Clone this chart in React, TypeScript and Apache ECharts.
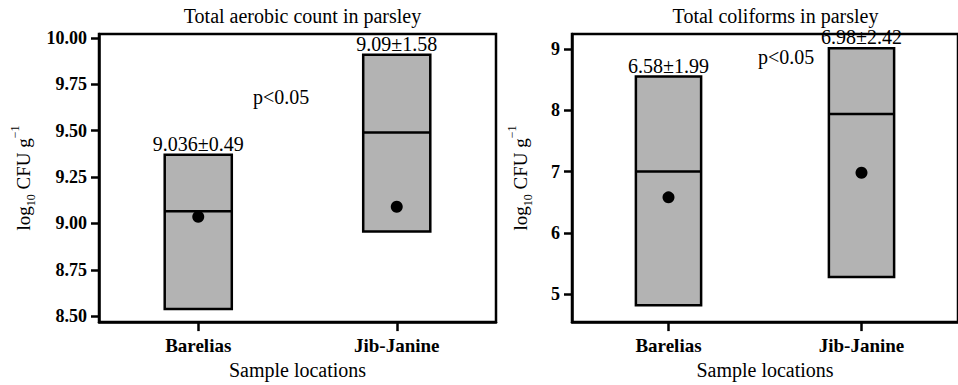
import React, { useEffect, useRef } from "react";
import * as echarts from "echarts";

const categories = ["Barelias", "Jib-Janine"];

// Panel 1: Total aerobic count
const aerobicLow = [8.538, 8.957];
const aerobicHigh = [9.371, 9.909];
const aerobicMedian = [9.066, 9.491];
const aerobicMean = [9.036, 9.09];
const aerobicLabels = ["9.036±0.49", "9.09±1.58"];
const aerobicTicks = [8.5, 8.75, 9.0, 9.25, 9.5, 9.75, 10.0];

// Panel 2: Total coliforms
const coliLow = [4.82, 5.28];
const coliHigh = [8.55, 9.01];
const coliMedian = [7.0, 7.94];
const coliMean = [6.58, 6.98];
const coliLabels = ["6.58±1.99", "6.98±2.42"];
const coliTicks = [5, 6, 7, 8, 9];

const titles = ["Total aerobic count in parsley", "Total coliforms in parsley"];
const pText = "p<0.05";

const FONT = "Liberation Serif";

export default function App() {
  const ref = useRef<HTMLDivElement>(null);

  useEffect(() => {
    if (!ref.current) return;
    const chart = echarts.init(ref.current, null, { renderer: "svg" });

    const yName = "{n|log}{s|10}{n| CFU g}{p|−1}";
    const nameRich = {
      n: { fontSize: 19, fontFamily: FONT, color: "#000", lineHeight: 28 },
      s: { fontSize: 12, fontFamily: FONT, color: "#000", lineHeight: 12, verticalAlign: "bottom" },
      p: { fontSize: 12, fontFamily: FONT, color: "#000", lineHeight: 12, verticalAlign: "top" },
    };

    const makeBox = (idx: number, low: number[], high: number[], med: number[], labels: string[]) => ({
      type: "custom",
      xAxisIndex: idx,
      yAxisIndex: idx,
      clip: false,
      z: 3,
      data: categories.map((_, i) => [i, low[i], high[i], med[i]]),
      renderItem: (params: any, api: any) => {
        const i = api.value(0);
        const top = api.coord([i, api.value(2)]);
        const bot = api.coord([i, api.value(1)]);
        const m = api.coord([i, api.value(3)]);
        const w = api.size([1, 0])[0] * 0.338;
        const x0 = top[0] - w / 2;
        return {
          type: "group",
          children: [
            {
              type: "rect",
              shape: { x: x0, y: top[1], width: w, height: bot[1] - top[1] },
              style: { fill: "#b3b3b3", stroke: "#000", lineWidth: 2.5 },
            },
            {
              type: "line",
              shape: { x1: x0, y1: m[1], x2: x0 + w, y2: m[1] },
              style: { stroke: "#000", lineWidth: 2.5 },
            },
            {
              type: "text",
              x: top[0],
              y: top[1] - 1,
              z2: 10,
              style: {
                text: labels[params.dataIndex],
                align: "center",
                verticalAlign: "bottom",
                font: "20px Liberation Serif",
                fill: "#000",
              },
            },
          ],
        };
      },
    });

    const makeMean = (idx: number, mean: number[]) => ({
      type: "scatter",
      xAxisIndex: idx,
      yAxisIndex: idx,
      z: 5,
      symbol: "circle",
      symbolSize: 12,
      itemStyle: { color: "#000", opacity: 1 },
      data: categories.map((_, i) => [i, mean[i]]),
    });

    const makeX = (idx: number) => ({
      type: "category",
      gridIndex: idx,
      data: categories,
      boundaryGap: true,
      name: "Sample locations",
      nameLocation: "middle",
      nameGap: 37,
      nameTextStyle: { fontSize: 20, fontFamily: FONT, color: "#000" },
      axisLine: { show: true, lineStyle: { color: "#000", width: 2.5 } },
      axisTick: { show: true, alignWithLabel: true, length: 9, lineStyle: { color: "#000", width: 2.5 } },
      axisLabel: { fontSize: 19, fontWeight: "bold", fontFamily: FONT, color: "#000", margin: 14 },
      splitLine: { show: false },
    });

    const makeY = (idx: number, min: number, max: number, ticks: number[], dec: number, gap: number) => ({
      type: "value",
      gridIndex: idx,
      min,
      max,
      name: yName,
      nameLocation: "middle",
      nameGap: gap,
      nameRotate: 90,
      nameTextStyle: { fontSize: 19, fontFamily: FONT, color: "#000", rich: nameRich },
      axisLine: { show: true, lineStyle: { color: "#000", width: 2.5 } },
      axisTick: { show: true, length: 8, customValues: ticks, lineStyle: { color: "#000", width: 2.5 } },
      axisLabel: {
        customValues: ticks,
        fontSize: 18,
        fontWeight: "bold",
        fontFamily: FONT,
        color: "#000",
        margin: 12,
        formatter: (v: number) => v.toFixed(dec),
      },
      splitLine: { show: false },
    });

    chart.setOption({
      animation: false,
      backgroundColor: "#fff",
      title: [
        { text: titles[0], left: 297.5, top: 1, textAlign: "center", textStyle: { fontSize: 20, fontWeight: "normal", fontFamily: FONT, color: "#000" } },
        { text: titles[1], left: 770.5, top: 1, textAlign: "center", textStyle: { fontSize: 20, fontWeight: "normal", fontFamily: FONT, color: "#000" } },
      ],
      grid: [
        { left: 99, top: 34, width: 397, height: 289, show: true, borderColor: "#000", borderWidth: 2.5, backgroundColor: "transparent" },
        { left: 572, top: 34, width: 397, height: 289, show: true, borderColor: "#000", borderWidth: 2.5, backgroundColor: "transparent" },
      ],
      xAxis: [makeX(0), makeX(1)],
      yAxis: [
        makeY(0, 8.468, 10.0215, aerobicTicks, 2, 62),
        makeY(1, 4.545, 9.244, coliTicks, 0, 38),
      ],
      graphic: [
        { type: "text", left: 253, top: 87, style: { text: pText, font: "20px Liberation Serif", fill: "#000" } },
        { type: "text", left: 758, top: 47, style: { text: pText, font: "20px Liberation Serif", fill: "#000" } },
      ],
      series: [
        makeBox(0, aerobicLow, aerobicHigh, aerobicMedian, aerobicLabels),
        makeMean(0, aerobicMean),
        makeBox(1, coliLow, coliHigh, coliMedian, coliLabels),
        makeMean(1, coliMean),
      ],
    });

    return () => chart.dispose();
  }, []);

  return (
    <div
      ref={ref}
      style={{ position: "absolute", left: 0, top: 0, width: 958, height: 385 }}
    />
  );
}
